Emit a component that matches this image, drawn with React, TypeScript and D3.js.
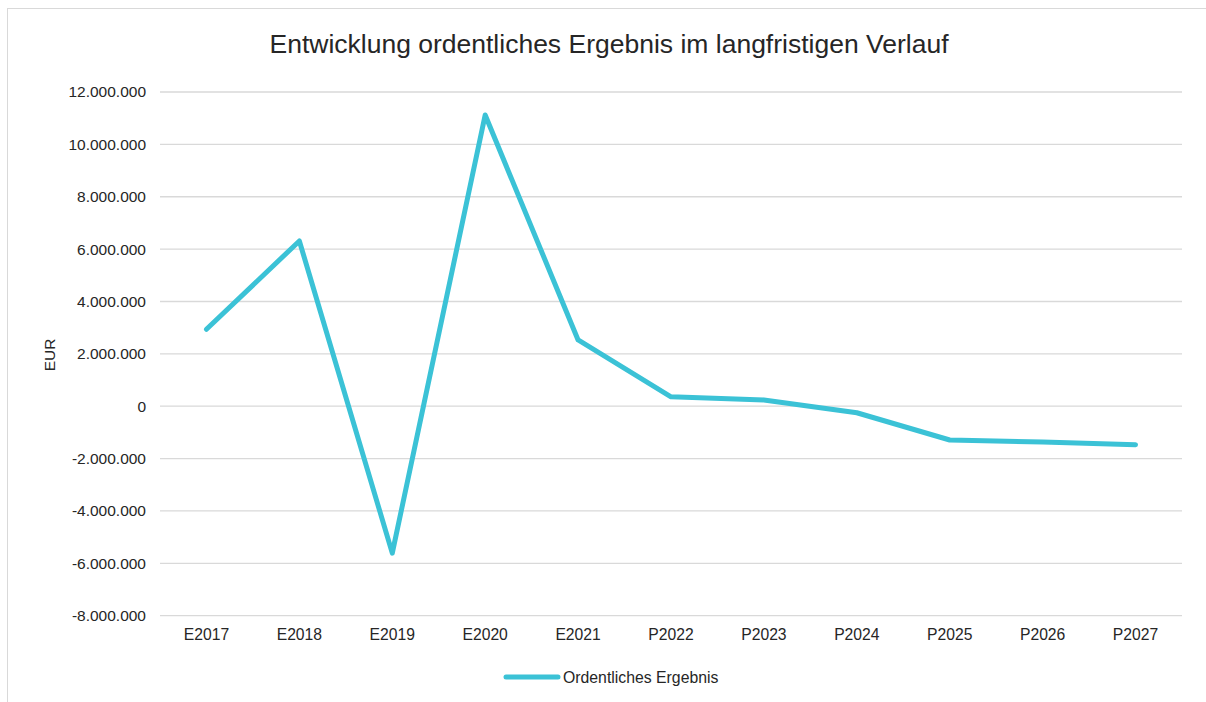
import * as d3 from "d3";
import React, { useRef, useEffect } from "react";

const categories = ["E2017", "E2018", "E2019", "E2020", "E2021", "P2022", "P2023", "P2024", "P2025", "P2026", "P2027"];
const values = [2940000, 6310000, -5610000, 11120000, 2530000, 360000, 240000, -250000, -1290000, -1370000, -1470000];
const yTicks = [-8000000, -6000000, -4000000, -2000000, 0, 2000000, 4000000, 6000000, 8000000, 10000000, 12000000];
const seriesName = "Ordentliches Ergebnis";
const title = "Entwicklung ordentliches Ergebnis im langfristigen Verlauf";

const WIDTH = 1206;
const HEIGHT = 702;
const FONT = "'Liberation Sans', Arial, sans-serif";
const LINE_COLOR = "#3bc2d6";

const fmt = (v: number) => {
	const s = d3.format(",")(Math.abs(v)).replace(/,/g, ".");
	return v < 0 ? "-" + s : s;
};

const App = () => {
	const svgRef = useRef<SVGSVGElement>(null);

	useEffect(() => {
		const svg = d3.select(svgRef.current);
		svg.selectAll("*").remove();

		const left = 160;
		const right = 1182;
		const top = 92;
		const bottom = 615.7;

		const x = d3.scalePoint().domain(categories).range([left, right]).padding(0.5);
		const y = d3.scaleLinear().domain([-8000000, 12000000]).range([bottom, top]);

		// frame
		svg.append("rect").attr("x", 7.5).attr("y", 8.5).attr("width", 1210).attr("height", 710).attr("fill", "#fff").attr("stroke", "#d9d9d9").attr("stroke-width", 1);

		svg
			.append("text")
			.attr("x", 609)
			.attr("y", 53)
			.attr("text-anchor", "middle")
			.attr("font-family", FONT)
			.attr("font-size", 26.5)
			.attr("fill", "#262626")
			.text(title);

		// gridlines
		svg
			.append("g")
			.selectAll("line")
			.data(yTicks)
			.join("line")
			.attr("x1", left)
			.attr("x2", right)
			.attr("y1", (d) => y(d))
			.attr("y2", (d) => y(d))
			.attr("stroke", "#d9d9d9")
			.attr("stroke-width", 1.3);

		svg
			.append("g")
			.selectAll("text")
			.data(yTicks)
			.join("text")
			.attr("x", 146)
			.attr("y", (d) => y(d))
			.attr("dy", "0.35em")
			.attr("text-anchor", "end")
			.attr("font-family", FONT)
			.attr("font-size", 15.5)
			.attr("fill", "#262626")
			.text((d) => fmt(d));

		svg
			.append("g")
			.selectAll("text")
			.data(categories)
			.join("text")
			.attr("x", (d) => x(d)!)
			.attr("y", 640)
			.attr("text-anchor", "middle")
			.attr("font-family", FONT)
			.attr("font-size", 15.7)
			.attr("fill", "#262626")
			.text((d) => d);

		svg
			.append("text")
			.attr("transform", "translate(55,355) rotate(-90)")
			.attr("text-anchor", "middle")
			.attr("font-family", FONT)
			.attr("font-size", 15.5)
			.attr("fill", "#262626")
			.text("EUR");

		const line = d3
			.line<number>()
			.x((_, i) => x(categories[i])!)
			.y((d) => y(d));

		svg
			.append("path")
			.datum(values)
			.attr("fill", "none")
			.attr("stroke", LINE_COLOR)
			.attr("stroke-width", 5)
			.attr("stroke-linecap", "round")
			.attr("stroke-linejoin", "round")
			.attr("d", line);

		// legend
		svg.append("line").attr("x1", 506).attr("x2", 558).attr("y1", 677).attr("y2", 677).attr("stroke", LINE_COLOR).attr("stroke-width", 5).attr("stroke-linecap", "round");
		svg
			.append("text")
			.attr("x", 563)
			.attr("y", 677)
			.attr("dy", "0.35em")
			.attr("font-family", FONT)
			.attr("font-size", 15.8)
			.attr("fill", "#262626")
			.text(seriesName);
	}, []);

	return <svg ref={svgRef} width={WIDTH} height={HEIGHT} viewBox={`0 0 ${WIDTH} ${HEIGHT}`} style={{ position: "absolute", left: 0, top: 0, background: "#fff" }} />;
};

export default App;
